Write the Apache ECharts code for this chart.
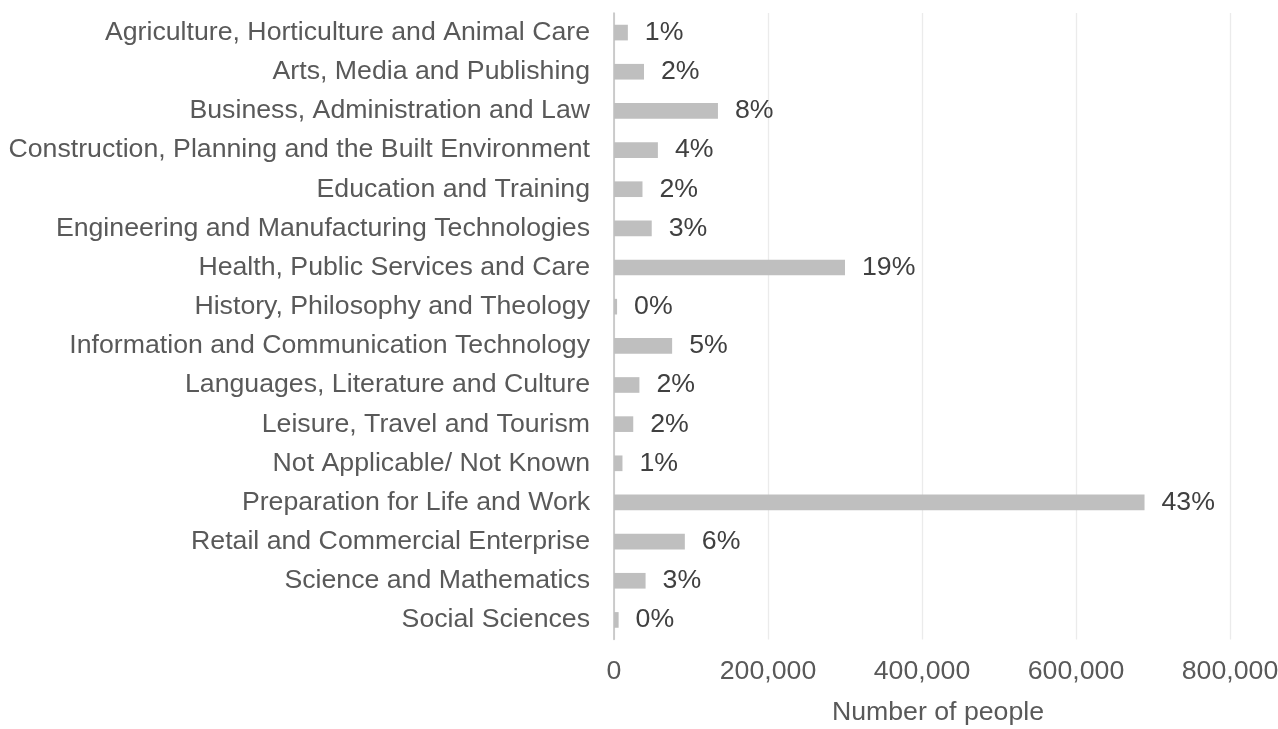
<!DOCTYPE html>
<html>
<head>
<meta charset="utf-8">
<title>Number of people by subject area</title>
<script src="https://cdn.jsdelivr.net/npm/echarts@6/dist/echarts.min.js"></script>
<style>
  html, body { margin: 0; padding: 0; background: #ffffff; }
  #chart { width: 1278px; height: 729px; }
</style>
</head>
<body>
<div id="chart"></div>
<script>
// Subject areas, listed top to bottom
const categories = [
  'Agriculture, Horticulture and Animal Care',
  'Arts, Media and Publishing',
  'Business, Administration and Law',
  'Construction, Planning and the Built Environment',
  'Education and Training',
  'Engineering and Manufacturing Technologies',
  'Health, Public Services and Care',
  'History, Philosophy and Theology',
  'Information and Communication Technology',
  'Languages, Literature and Culture',
  'Leisure, Travel and Tourism',
  'Not Applicable/ Not Known',
  'Preparation for Life and Work',
  'Retail and Commercial Enterprise',
  'Science and Mathematics',
  'Social Sciences'
];

// Number of people in each subject area
const people = [
  18000, 39000, 135000, 57000, 37000, 49000, 300000, 4000,
  75500, 33000, 25000, 11000, 689000, 92000, 41000, 6000
];

// Share of the total shown beside each bar
const shareLabels = ['1%', '2%', '8%', '4%', '2%', '3%', '19%', '0%',
                     '5%', '2%', '2%', '1%', '43%', '6%', '3%', '0%'];

// Value axis ticks
const xMin = 0;
const xMax = 800000;
const xStep = 200000;

const fontFamily = '"Liberation Sans", Arial, sans-serif';
const fontSize = 26.7;

const chart = echarts.init(document.getElementById('chart'), null, { renderer: 'canvas' });

chart.setOption({
  animation: false,
  backgroundColor: '#ffffff',
  grid: {
    left: 614, right: 48, top: 13, bottom: 89.5,
    containLabel: false,
    outerBoundsMode: 'none'
  },
  xAxis: {
    type: 'value',
    min: xMin,
    max: xMax,
    interval: xStep,
    name: 'Number of people',
    nameLocation: 'middle',
    nameGap: 60,
    nameTextStyle: {
      color: '#595959', fontSize: fontSize, fontFamily: fontFamily,
      padding: [0, 0, 0, 32]
    },
    axisLine: { show: false },
    axisTick: { show: false },
    splitLine: { show: true, lineStyle: { color: '#ebebeb', width: 1.3 } },
    axisLabel: {
      color: '#595959', fontSize: fontSize, fontFamily: fontFamily, margin: 19,
      formatter: v => v.toLocaleString('en-US')
    }
  },
  yAxis: {
    type: 'category',
    data: categories,
    inverse: true,
    axisLine: { show: true, lineStyle: { color: '#bfbfbf', width: 1.5 } },
    axisTick: { show: false },
    splitLine: { show: false },
    axisLabel: {
      color: '#595959', fontSize: fontSize, fontFamily: fontFamily, margin: 24,
      interval: 0,
      padding: [4, 0, 0, 0]
    }
  },
  series: [{
    type: 'bar',
    data: people,
    barWidth: '40%',
    itemStyle: { color: '#bfbfbf' },
    label: {
      show: true,
      position: 'right',
      distance: 17,
      color: '#404040',
      fontSize: fontSize,
      fontFamily: fontFamily,
      padding: [4, 0, 0, 0],
      formatter: p => shareLabels[p.dataIndex]
    }
  }]
});
</script>
</body>
</html>
